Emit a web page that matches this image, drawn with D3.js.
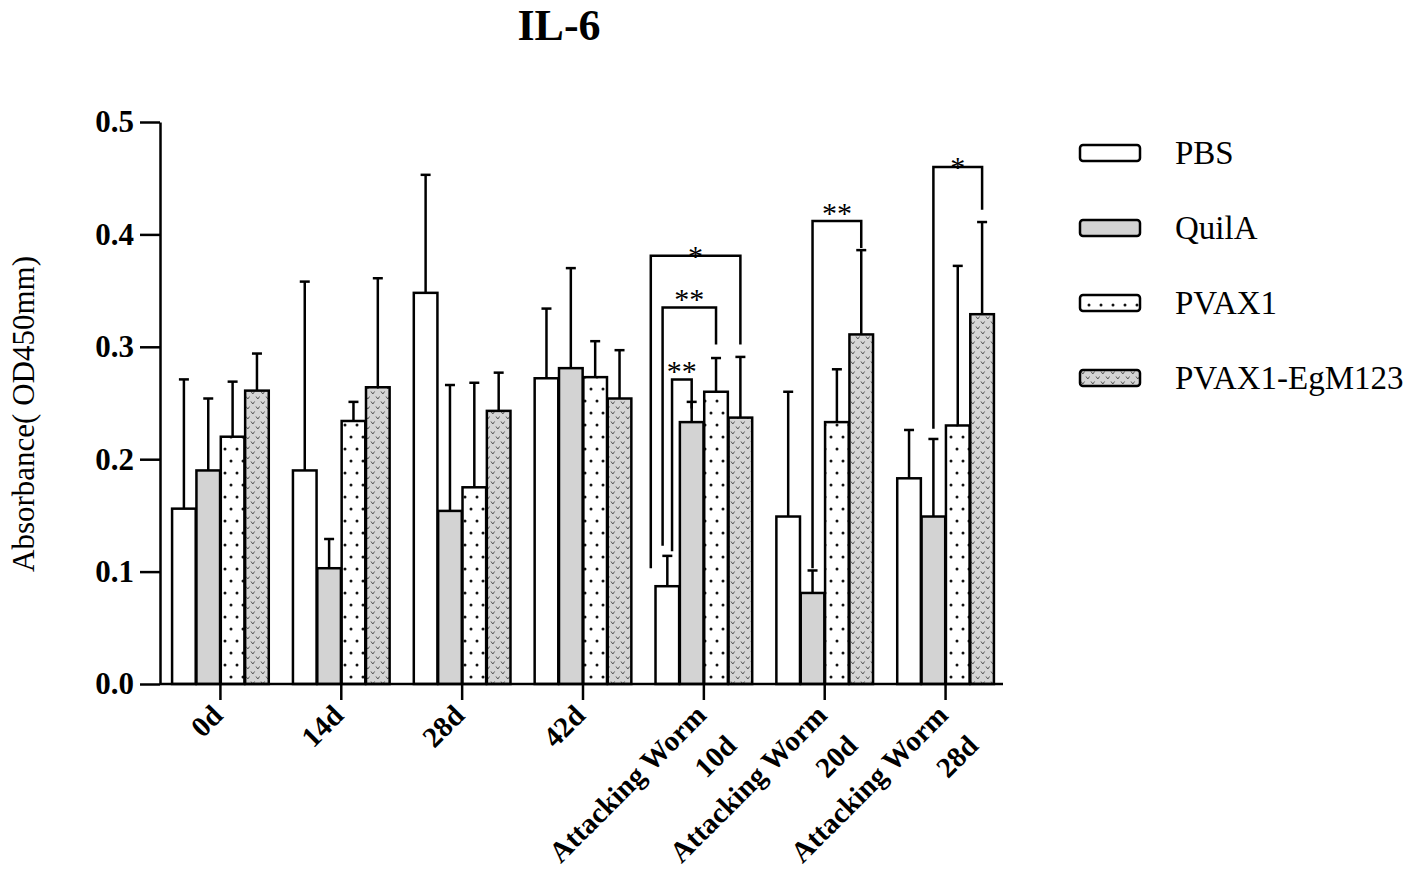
<!DOCTYPE html>
<html>
<head>
<meta charset="utf-8">
<script src="https://cdn.jsdelivr.net/npm/d3@7"></script>
<style>
  body { margin: 0; background: #fff; }
  svg { display: block; }
  text { font-family: "Liberation Serif", "Times New Roman", serif; fill: #000; }
</style>
</head>
<body>
<svg width="1418" height="882"></svg>
<script>
// categories (a "|" splits a tick label into two lines)
var groups = ["0d", "14d", "28d", "42d",
    "Attacking Worm|10d", "Attacking Worm|20d", "Attacking Worm|28d"];
var series = ["PBS", "QuilA", "PVAX1", "PVAX1-EgM123"];
var yTicks = [0, 0.1, 0.2, 0.3, 0.4, 0.5];

// means
var pbs   = [0.156, 0.190, 0.348, 0.272, 0.087, 0.149, 0.183];
var quila = [0.190, 0.103, 0.154, 0.281, 0.233, 0.081, 0.149];
var pvax  = [0.220, 0.234, 0.175, 0.273, 0.260, 0.233, 0.230];
var egm   = [0.261, 0.264, 0.243, 0.254, 0.237, 0.311, 0.329];

// SD (upper error bar only)
var pbsSd   = [0.115, 0.168, 0.105, 0.062, 0.027, 0.111, 0.043];
var quilaSd = [0.064, 0.026, 0.112, 0.089, 0.018, 0.020, 0.069];
var pvaxSd  = [0.049, 0.017, 0.093, 0.032, 0.030, 0.047, 0.142];
var egmSd   = [0.033, 0.097, 0.034, 0.043, 0.054, 0.075, 0.082];

// significance brackets
var sigGroup    = [4, 4, 4, 5, 6];
var sigFrom     = [0, 0, 0, 1, 1];
var sigTo       = [3, 2, 1, 3, 3];
var sigLeftLow  = [0.103, 0.123, 0.118, 0.103, 0.227];
var sigTop      = [0.381, 0.335, 0.271, 0.412, 0.460];
var sigRightLow = [0.302, 0.302, 0.245, 0.388, 0.422];
var sigLabel    = ["*", "**", "**", "**", "*"];
var sigNudge    = [-0.7, -0.2, 0.2, 0, 0];   // left leg shift, in bar widths

var means = [pbs, quila, pvax, egm];
var sds = [pbsSd, quilaSd, pvaxSd, egmSd];

var svg = d3.select("svg");
var fills = ["#ffffff", "#d3d3d3", "url(#dots)", "url(#vees)"];

// patterns
var defs = svg.append("defs");
var pd = defs.append("pattern").attr("id", "dots")
    .attr("patternUnits", "userSpaceOnUse").attr("width", 12).attr("height", 24);
pd.append("rect").attr("width", 12).attr("height", 24).attr("fill", "#fff");
pd.append("circle").attr("cx", 3).attr("cy", 5).attr("r", 1.5).attr("fill", "#111");
pd.append("circle").attr("cx", 9).attr("cy", 17).attr("r", 1.5).attr("fill", "#111");

var pv = defs.append("pattern").attr("id", "vees")
    .attr("patternUnits", "userSpaceOnUse").attr("width", 10).attr("height", 10);
pv.append("rect").attr("width", 10).attr("height", 10).attr("fill", "#d6d6d6");
pv.append("path").attr("d", "M1,1.5 L2.8,4 L4.6,1.5 M6,6.5 L7.8,9 L9.6,6.5")
    .attr("fill", "none").attr("stroke", "#555").attr("stroke-width", 1);

// scales
var y = d3.scaleLinear().domain([0, 0.5]).range([684, 122]);
var x = d3.scaleBand().domain(groups).range([160, 1006]);
var inner = d3.scaleBand().domain(d3.range(series.length))
    .range([x.bandwidth() * 0.1, x.bandwidth() * 0.9]).paddingInner(0.03);

// title
svg.append("text").attr("x", 559).attr("y", 40)
    .attr("text-anchor", "middle").attr("font-weight", "bold")
    .attr("font-size", 44).text("IL-6");

// y label
svg.append("text")
    .attr("transform", "translate(34,414) rotate(-90)")
    .attr("text-anchor", "middle").attr("font-size", 31)
    .text("Absorbance( OD450mm)");

// bars
var rows = [];
means.forEach(function (arr, s) {
    arr.forEach(function (v, g) {
        rows.push({ g: g, s: s, v: v, sd: sds[s][g] });
    });
});

var bars = svg.append("g");
bars.selectAll("rect").data(rows).enter().append("rect")
    .attr("x", function (d) { return x(groups[d.g]) + inner(d.s); })
    .attr("y", function (d) { return y(d.v); })
    .attr("width", inner.bandwidth())
    .attr("height", function (d) { return y(0) - y(d.v); })
    .attr("fill", function (d) { return fills[d.s]; })
    .attr("stroke", "#000").attr("stroke-width", 2.5);

// error bars
function cx(g, s) { return x(groups[g]) + inner(s) + inner.bandwidth() / 2; }
var err = svg.append("g").attr("stroke", "#000").attr("stroke-width", 2.5);
rows.forEach(function (d) {
    var c = cx(d.g, d.s);
    err.append("line").attr("x1", c).attr("x2", c)
        .attr("y1", y(d.v)).attr("y2", y(d.v + d.sd));
    err.append("line").attr("x1", c - 5).attr("x2", c + 5)
        .attr("y1", y(d.v + d.sd)).attr("y2", y(d.v + d.sd));
});

// axes
var yAxis = svg.append("g").attr("transform", "translate(160,0)")
    .call(d3.axisLeft(y).tickValues(yTicks).tickFormat(d3.format(".1f"))
        .tickSize(20).tickSizeOuter(0).tickPadding(6));
var xAxis = svg.append("g").attr("transform", "translate(0,684)")
    .call(d3.axisBottom(x).tickSize(16).tickSizeOuter(0).tickFormat(""));

[yAxis, xAxis].forEach(function (a) {
    a.selectAll("path, line").attr("stroke", "#000").attr("stroke-width", 2.5);
});
xAxis.select(".domain").attr("d", "M160,0H1003");
yAxis.selectAll("text").attr("font-family", "Liberation Serif")
    .attr("font-weight", "bold").attr("font-size", 31).attr("fill", "#000");

// x tick labels, rotated
var xl = svg.append("g");
groups.forEach(function (g) {
    var px = x(g) + x.bandwidth() / 2 + 4;
    var t = xl.append("text")
        .attr("transform", "translate(" + px + ",717) rotate(-45)")
        .attr("text-anchor", "end").attr("font-weight", "bold").attr("font-size", 29);
    g.split("|").forEach(function (line, i) {
        t.append("tspan").attr("x", 0).attr("y", i * 43).text(line);
    });
});

// significance brackets
var sig = svg.append("g");
sigGroup.forEach(function (g, i) {
    var x1 = cx(g, sigFrom[i]) + sigNudge[i] * inner.bandwidth();
    var x2 = cx(g, sigTo[i]);
    sig.append("path")
        .attr("d", "M" + x1 + "," + y(sigLeftLow[i]) + "V" + y(sigTop[i]) +
            "H" + x2 + "V" + y(sigRightLow[i]))
        .attr("fill", "none").attr("stroke", "#000").attr("stroke-width", 2.5);
    sig.append("text").attr("x", (x1 + x2) / 2)
        .attr("y", y(sigTop[i]) + (sigLabel[i].length > 1 ? 2 : 10))
        .attr("text-anchor", "middle").attr("font-family", "DejaVu Sans")
        .attr("font-size", 30).text(sigLabel[i]);
});

// legend
var leg = svg.append("g");
series.forEach(function (s, i) {
    var cy = 153 + i * 75;
    leg.append("rect").attr("x", 1080).attr("y", cy - 8)
        .attr("width", 60).attr("height", 16).attr("rx", 3)
        .attr("fill", fills[i]).attr("stroke", "#000").attr("stroke-width", 2.5);
    leg.append("text").attr("x", 1175).attr("y", cy + 11)
        .attr("font-size", 33).text(s);
});
</script>
</body>
</html>
